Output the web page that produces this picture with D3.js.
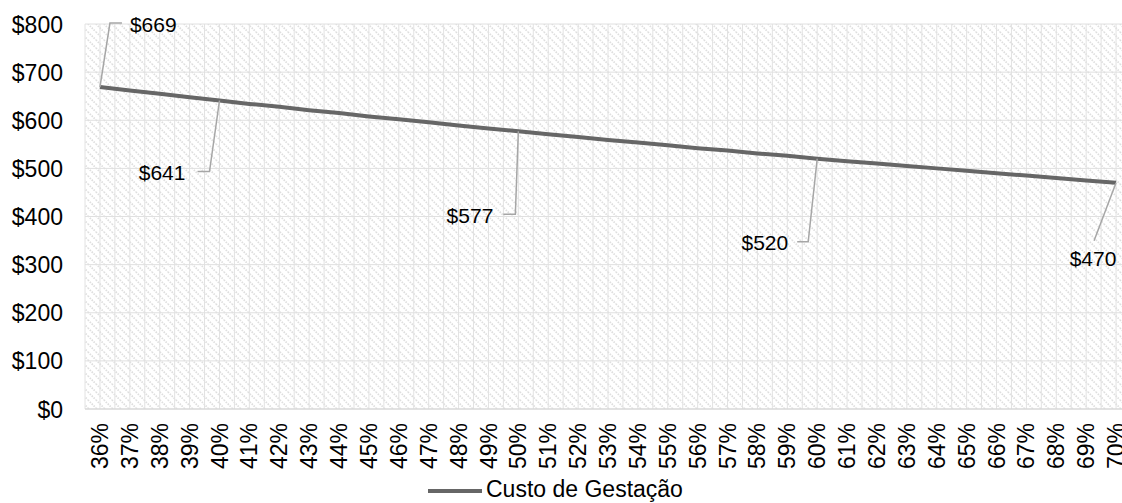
<!DOCTYPE html>
<html>
<head>
<meta charset="utf-8">
<script src="https://cdn.jsdelivr.net/npm/d3@7/dist/d3.min.js"></script>
<style>
  html, body { margin: 0; padding: 0; background: #fff; }
  svg { display: block; overflow: hidden; }
  text { font-family: "Liberation Sans", Arial, sans-serif; fill: #000; }
</style>
</head>
<body>
<svg id="chart" width="1122" height="503"></svg>
<script>
// Gestation cost by rate (36% … 70%)
const categories = ["36%","37%","38%","39%","40%","41%","42%","43%","44%","45%","46%","47%","48%","49%","50%","51%","52%","53%","54%","55%","56%","57%","58%","59%","60%","61%","62%","63%","64%","65%","66%","67%","68%","69%","70%"];
const costValues = [669,662,655,648,641,634,628,621,615,608,602,596,589,583,577,571,565,559,554,548,542,537,531,526,520,515,510,505,500,495,490,485,480,475,470];
const yTicks = [0,100,200,300,400,500,600,700,800];
const seriesName = "Custo de Gestação";
// categories that carry a value label
const labelledCategories = ["36%","40%","50%","60%","70%"];

// leader-line layout for each value label (pixel offsets from the point)
const labelLayout = {
  "36%": { elbow: [10,-64], end: [22,-64], text: [30,-62], anchor: "start" },
  "40%": { elbow: [-10,71], end: [-22,71], text: [-34,72], anchor: "end" },
  "50%": { elbow: [-3,83], end: [-15,83], text: [-25,84], anchor: "end" },
  "60%": { elbow: [-9,83], end: [-20,83], text: [-29,84], anchor: "end" },
  "70%": { elbow: null, end: [-22,58], text: [-23,76], anchor: "middle" }
};

const svg = d3.select("#chart");
const plot = { left: 85, top: 24, bottom: 409, width: 1046 };

const x = d3.scaleBand().domain(categories).range([plot.left, plot.left + plot.width]).padding(0);
const xc = c => x(c) + x.bandwidth() / 2;
const y = d3.scaleLinear().domain([0, 800]).range([plot.bottom, plot.top]);

// diagonal hatch fill of the plot area
const defs = svg.append("defs");
const pat = defs.append("pattern")
  .attr("id", "hatch").attr("patternUnits", "userSpaceOnUse")
  .attr("width", 8).attr("height", 8);
pat.append("path")
  .attr("d", "M-2,-2 L10,10 M-2,6 L2,10 M6,-2 L10,2")
  .attr("stroke", "#dedede").attr("stroke-width", 1.8)
  .attr("stroke-dasharray", "1.5,1.2");

svg.append("rect")
  .attr("x", plot.left).attr("y", plot.top)
  .attr("width", plot.width).attr("height", plot.bottom - plot.top)
  .attr("fill", "url(#hatch)");

// vertical gridlines at band edges and centres
const vLines = [];
categories.forEach(c => { vLines.push(x(c)); vLines.push(xc(c)); });
vLines.push(plot.left + plot.width);
svg.append("g").selectAll("line").data(vLines).join("line")
  .attr("x1", d => d).attr("x2", d => d)
  .attr("y1", plot.top).attr("y2", plot.bottom)
  .attr("stroke", "#e2e2e2").attr("stroke-width", 1);

// horizontal gridlines
svg.append("g").selectAll("line").data(yTicks).join("line")
  .attr("x1", plot.left).attr("x2", plot.left + plot.width)
  .attr("y1", d => y(d)).attr("y2", d => y(d))
  .attr("stroke", d => d === 0 ? "#d9d9d9" : "#e0e0e0")
  .attr("stroke-width", d => d === 0 ? 1.5 : 1);

// y axis labels
const yAxis = d3.axisLeft(y).tickValues(yTicks).tickFormat(d => "$" + d).tickSize(0).tickPadding(0);
const gy = svg.append("g").attr("transform", "translate(63,0)").call(yAxis);
gy.select(".domain").remove();
gy.selectAll("text").style("font-size", "23px").attr("font-family", "Liberation Sans, Arial, sans-serif").attr("fill", "#000").attr("dy", "0.35em");

// x axis labels (rotated)
const xAxis = d3.axisBottom(x).tickSize(0).tickPadding(0);
const gx = svg.append("g").attr("transform", `translate(0,${plot.bottom})`).call(xAxis);
gx.select(".domain").remove();
gx.selectAll("text")
  .style("font-size", "23px").attr("font-family", "Liberation Sans, Arial, sans-serif").attr("fill", "#000")
  .attr("text-anchor", "end")
  .attr("transform", "rotate(-90)")
  .attr("x", -14).attr("y", 0).attr("dy", "0.35em");

// value line
const pts = categories.map((c, i) => ({ c, v: costValues[i] }));
svg.append("path").datum(pts)
  .attr("fill", "none").attr("stroke", "#666666").attr("stroke-width", 4)
  .attr("stroke-linejoin", "round")
  .attr("d", d3.line().x(d => xc(d.c)).y(d => y(d.v)));

// value labels with leader lines
const lab = svg.append("g");
labelledCategories.forEach(c => {
  const v = costValues[categories.indexOf(c)];
  const px = xc(c), py = y(v);
  const L = labelLayout[c];
  const path = d3.path();
  path.moveTo(px, py);
  if (L.elbow) path.lineTo(px + L.elbow[0], py + L.elbow[1]);
  path.lineTo(px + L.end[0], py + L.end[1]);
  lab.append("path").attr("d", path.toString())
    .attr("fill", "none").attr("stroke", "#a6a6a6").attr("stroke-width", 1.5);
  lab.append("text")
    .attr("x", px + L.text[0]).attr("y", py + L.text[1])
    .attr("text-anchor", L.anchor).attr("dy", "0.35em")
    .style("font-size", "21px")
    .text("$" + v);
});

// legend
const lg = svg.append("g");
lg.append("line").attr("x1", 428).attr("x2", 482).attr("y1", 491).attr("y2", 491)
  .attr("stroke", "#666666").attr("stroke-width", 4);
lg.append("text").attr("x", 486).attr("y", 489).attr("dy", "0.35em")
  .style("font-size", "23px").text(seriesName);
</script>
</body>
</html>
